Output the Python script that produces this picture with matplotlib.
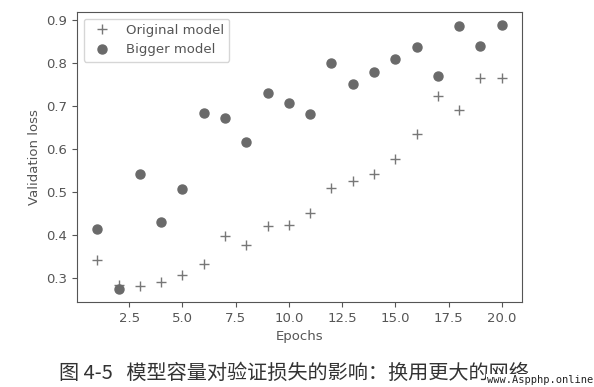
import numpy as np
import matplotlib as mpl
import matplotlib.pyplot as plt

mpl.rcParams['font.family'] = ['DejaVu Sans', 'Noto Sans CJK SC']

epochs = np.arange(1, 21)
original_loss = [0.342, 0.286, 0.282, 0.292, 0.308, 0.333, 0.398, 0.378, 0.423, 0.425,
                 0.451, 0.509, 0.527, 0.543, 0.577, 0.636, 0.724, 0.691, 0.766, 0.766]
bigger_loss = [0.414, 0.276, 0.543, 0.431, 0.508, 0.685, 0.672, 0.616, 0.731, 0.707,
               0.682, 0.800, 0.752, 0.779, 0.809, 0.838, 0.769, 0.887, 0.840, 0.888]

fig = plt.figure(figsize=(5.94, 3.87), dpi=100)
ax = fig.add_axes([0.1296, 0.2196, 0.7492, 0.7494])

grey = '#6a6a6a'
ax.plot(epochs, original_loss, '+', color='#777777', markersize=6.5, mew=1.0, label='Original model')
ax.plot(epochs, bigger_loss, 'o', color=grey, markersize=6.5, label='Bigger model')

ax.set_xticks([2.5, 5.0, 7.5, 10.0, 12.5, 15.0, 17.5, 20.0])
ax.set_yticks([0.3, 0.4, 0.5, 0.6, 0.7, 0.8, 0.9])
ax.tick_params(colors='#555555', labelsize=9.5)
for s in ax.spines.values():
    s.set_color('#555555')
ax.set_xlabel('Epochs', color='#555555', fontsize=9.5)
ax.set_ylabel('Validation loss', color='#555555', fontsize=9.5)

leg = ax.legend(loc='upper left', fontsize=9.5, labelcolor='#555555')

fig.text(0.495, 0.036, '图 4-5   模型容量对验证损失的影响：换用更大的网络',
         family=['Noto Sans CJK SC'], fontsize=14.5, color='#333333', ha='center', va='center')
fig.text(0.999, 0.005, 'www.Aspphp.online', family='DejaVu Sans Mono', fontsize=7.5,
         color='#222222', ha='right', va='bottom',
         bbox=dict(facecolor='white', edgecolor='none', pad=1))

fig.savefig('out.png', dpi=100)
